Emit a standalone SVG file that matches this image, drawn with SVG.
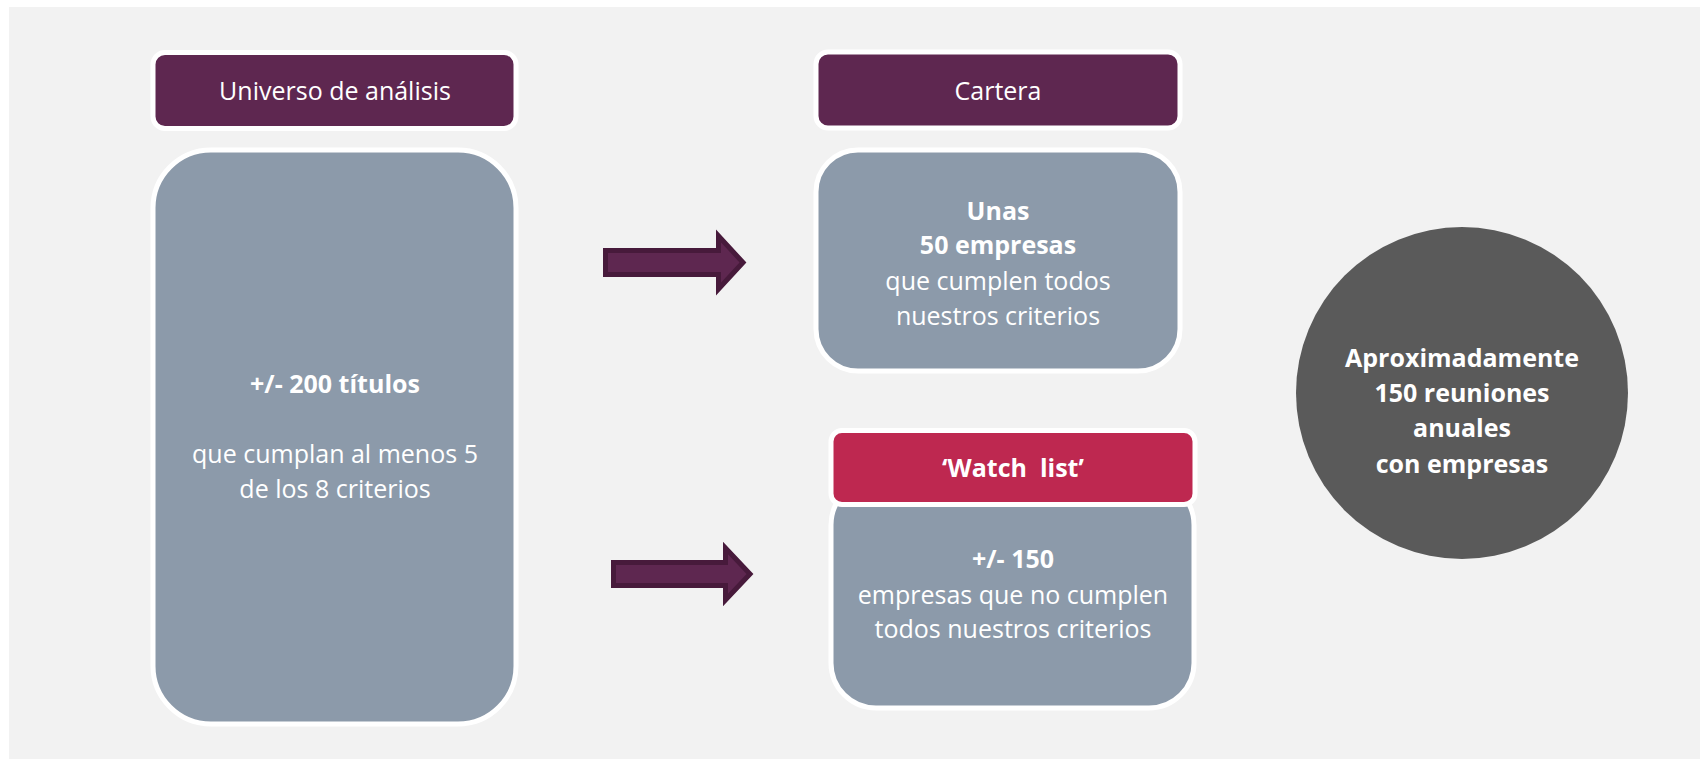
<svg xmlns="http://www.w3.org/2000/svg" width="1700" height="759" viewBox="0 0 1700 759">
<style>
.hdr{fill:#5e2750;stroke:#ffffff;stroke-width:5}
.wl{fill:#be2850;stroke:#ffffff;stroke-width:5}
.box{fill:#8c9aaa;stroke:#ffffff;stroke-width:5}
.arrow{fill:#5e2750;stroke:#471a3b;stroke-width:5;stroke-linejoin:miter}
.t{font-family:"Open Sans","Liberation Sans",sans-serif;font-size:25px;fill:#ffffff;text-anchor:middle}
.b{font-weight:bold}
</style>
<rect x="0" y="0" width="1700" height="759" fill="#ffffff"/>
<rect x="9" y="7" width="1691" height="752" fill="#f2f2f2"/>

<g id="universo-header">
<rect class="hdr" x="153" y="52.5" width="363" height="76" rx="12"/>
<text class="t" x="335" y="100">Universo de análisis</text>
</g>
<g id="universo-box">
<rect class="box" x="153" y="150" width="363" height="574" rx="58"/>
<text class="t b" x="335" y="393">+/- 200 títulos</text>
<text class="t" x="335" y="463">que cumplan al menos 5</text>
<text class="t" x="335" y="498">de los 8 criterios</text>
</g>

<g id="cartera-header">
<rect class="hdr" x="816" y="52" width="364" height="76" rx="12"/>
<text class="t" x="998" y="100">Cartera</text>
</g>
<g id="cartera-box">
<rect class="box" x="816" y="150" width="364" height="221" rx="42"/>
<text class="t b" x="998" y="220">Unas</text>
<text class="t b" x="998" y="254">50 empresas</text>
<text class="t" x="998" y="290">que cumplen todos</text>
<text class="t" x="998" y="325">nuestros criterios</text>
</g>

<g id="watch-box">
<rect class="box" x="831" y="480" width="363" height="228" rx="45"/>
<text class="t b" x="1013" y="568">+/- 150</text>
<text class="t" x="1013" y="604">empresas que no cumplen</text>
<text class="t" x="1013" y="638">todos nuestros criterios</text>
</g>
<g id="watch-header">
<rect class="wl" x="831" y="430.5" width="364" height="74" rx="11"/>
<text class="t b" x="1013" y="477" xml:space="preserve">‘Watch  list’</text>
</g>

<g id="reuniones">
<circle cx="1462" cy="393" r="166" fill="#5a5a5a"/>
<text class="t b" x="1462" y="367">Aproximadamente</text>
<text class="t b" x="1462" y="402">150 reuniones</text>
<text class="t b" x="1462" y="437">anuales</text>
<text class="t b" x="1462" y="473">con empresas</text>
</g>

<g id="connectors">
<polygon class="arrow" points="605.5,250.5 718.5,250.5 718.5,236 743,262.5 718.5,289 718.5,274.5 605.5,274.5"/>
<polygon class="arrow" points="613.5,562.5 725.5,562.5 725.5,548 750,574 725.5,600 725.5,585.5 613.5,585.5"/>
</g>
</svg>
